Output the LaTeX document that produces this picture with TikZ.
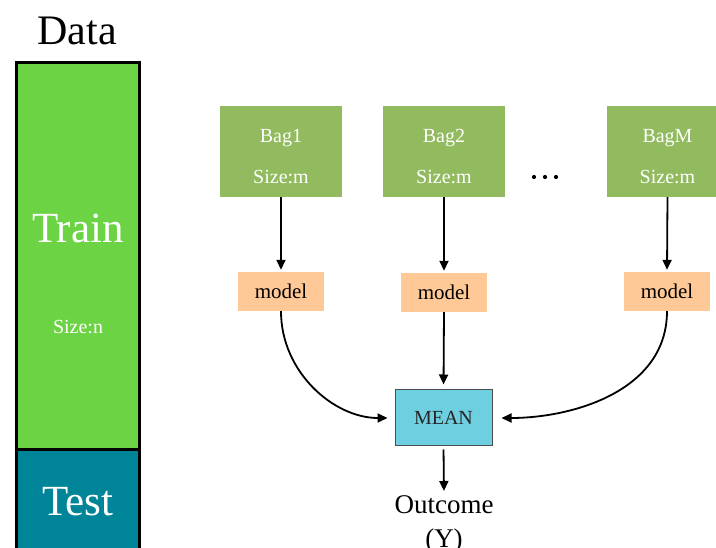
\documentclass[tikz,border=0pt]{standalone}
\usepackage{fontspec}
\setmainfont{Liberation Serif}
\usetikzlibrary{arrows.meta}
\definecolor{traingreen}{RGB}{108,212,68}
\definecolor{testteal}{RGB}{0,132,152}
\definecolor{baggreen}{RGB}{146,187,95}
\definecolor{modelpeach}{RGB}{255,201,151}
\definecolor{meancyan}{RGB}{109,207,224}
\begin{document}
\begin{tikzpicture}[x=1pt,y=-1pt,
  splitbox/.style={draw=black, line width=3pt, minimum width=123pt, inner sep=0pt},
  bigwhite/.style={text=white, font=\fontsize{43}{48}\selectfont, anchor=base, inner sep=0pt},
  bagbox/.style={fill=baggreen, minimum width=122pt, minimum height=91pt, inner sep=0pt},
  baglabel/.style={text=white, font=\fontsize{20}{24}\selectfont, anchor=base, inner sep=0pt},
  modelbox/.style={fill=modelpeach, minimum width=86pt, minimum height=39pt, inner sep=0pt, font=\fontsize{21}{24}\selectfont},
  flow/.style={line width=1.8pt, -{Triangle[length=10pt,width=9pt]}},
]
\useasboundingbox (0,0) rectangle (716,548);
\clip (0,0) rectangle (716,548);

% data split: train / test column
\node[splitbox, fill=testteal, minimum height=170pt] (test) at (77.5,535) {};
\node[splitbox, fill=traingreen, minimum height=387pt] (train) at (77.5,256.5) {};
\node[anchor=base, inner sep=0pt, font=\fontsize{42}{48}\selectfont] (data) at (77,45) {Data};
\node[bigwhite] (trainlbl) at (78,243) {Train};
\node[baglabel] (sizen) at (78,334) {Size:n};
\node[bigwhite] (testlbl) at (78,515) {Test};

% bootstrap bags
\node[bagbox] (bag1) at (281,151.5) {};
\node[bagbox] (bag2) at (444,151.5) {};
\node[bagbox] (bagm) at (667.5,151.5) {};
\node[baglabel] (bag1a) at (281,143) {Bag1};
\node[baglabel] (bag1b) at (281,184) {Size:m};
\node[baglabel] (bag2a) at (444,143) {Bag2};
\node[baglabel] (bag2b) at (444,184) {Size:m};
\node[baglabel] (bagma) at (667.5,143) {BagM};
\node[baglabel] (bagmb) at (667.5,184) {Size:m};
% ellipsis between the bags
\coordinate (dots) at (545,177);
\foreach \dx in {-11,0,11} \fill ([xshift=\dx pt]dots) circle (2.1pt);

% models
\node[modelbox] (m1) at (281,291.5) {model};
\node[modelbox] (m2) at (444,292.5) {model};
\node[modelbox] (m3) at (667,291.5) {model};

% aggregation
\node[fill=meancyan, draw=black!70, line width=1pt, minimum width=97pt, minimum height=56pt,
      inner sep=0pt, font=\fontsize{20}{24}\selectfont, text=black!85] (mean) at (443.5,418) {MEAN};
\node[anchor=north, inner sep=0pt, align=center, font=\fontsize{27}{34}\selectfont] (outcome) at (444,495) {Outcome\\(Y)};

% connectors
\draw[flow, shorten >=2pt] (bag1.south) -- (m1.north);
\draw[flow, shorten >=2pt] (bag2.south) -- (m2.north);
\draw[flow, shorten >=2pt] (bagm.south) -- (m3.north);
\draw[flow, shorten >=5pt] (m2.south) -- (mean.north);
\draw[flow, shorten >=7pt] (m1.south) to[out=-90, in=180] (mean.west);
\draw[flow, shorten >=9pt] (m3.south) to[out=-90, in=0] (mean.east);
\draw[flow, shorten <=3pt, shorten >=4pt] (mean.south) -- (outcome.north);
\end{tikzpicture}
\end{document}
